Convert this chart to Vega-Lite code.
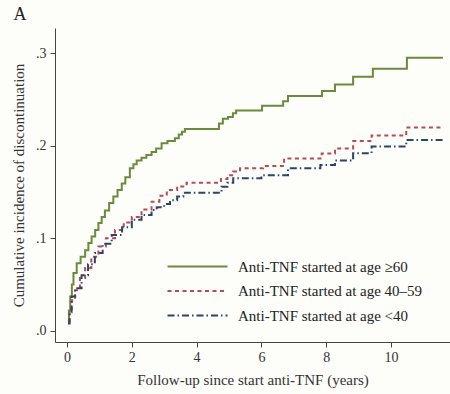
{
  "$schema": "https://vega.github.io/schema/vega-lite/v6.json",
  "autosize": "none",
  "padding": {"left": 55, "top": 28, "right": 0, "bottom": 52},
  "width": 395,
  "height": 314,
  "background": "#fdfdf9",
  "title": {"text": "A", "anchor": "start", "frame": "bounds", "dx": 2, "offset": 4, "fontSize": 18, "font": "Liberation Serif", "fontWeight": "normal", "color": "#222"},
  "config": {
    "view": {"stroke": null},
    "font": "Liberation Serif",
    "axis": {"labelFont": "Liberation Serif", "titleFont": "Liberation Serif", "labelFontSize": 14, "titleFontSize": 15, "titleFontWeight": "normal", "labelColor": "#333", "titleColor": "#333", "domainColor": "#444", "tickColor": "#444", "grid": false, "tickSize": 5}
  },
  "data": {"values": [
    {"g": "Anti-TNF started at age ≥60", "t": 0.03, "p": 0.010},
    {"g": "Anti-TNF started at age ≥60", "t": 0.06, "p": 0.022},
    {"g": "Anti-TNF started at age ≥60", "t": 0.10, "p": 0.037},
    {"g": "Anti-TNF started at age ≥60", "t": 0.15, "p": 0.050},
    {"g": "Anti-TNF started at age ≥60", "t": 0.20, "p": 0.0625},
    {"g": "Anti-TNF started at age ≥60", "t": 0.30, "p": 0.073},
    {"g": "Anti-TNF started at age ≥60", "t": 0.42, "p": 0.080},
    {"g": "Anti-TNF started at age ≥60", "t": 0.56, "p": 0.087},
    {"g": "Anti-TNF started at age ≥60", "t": 0.66, "p": 0.095},
    {"g": "Anti-TNF started at age ≥60", "t": 0.76, "p": 0.102},
    {"g": "Anti-TNF started at age ≥60", "t": 0.87, "p": 0.109},
    {"g": "Anti-TNF started at age ≥60", "t": 0.97, "p": 0.1165},
    {"g": "Anti-TNF started at age ≥60", "t": 1.07, "p": 0.123},
    {"g": "Anti-TNF started at age ≥60", "t": 1.17, "p": 0.130},
    {"g": "Anti-TNF started at age ≥60", "t": 1.30, "p": 0.138},
    {"g": "Anti-TNF started at age ≥60", "t": 1.43, "p": 0.145},
    {"g": "Anti-TNF started at age ≥60", "t": 1.56, "p": 0.152},
    {"g": "Anti-TNF started at age ≥60", "t": 1.69, "p": 0.159},
    {"g": "Anti-TNF started at age ≥60", "t": 1.80, "p": 0.166},
    {"g": "Anti-TNF started at age ≥60", "t": 1.94, "p": 0.1755},
    {"g": "Anti-TNF started at age ≥60", "t": 2.05, "p": 0.180},
    {"g": "Anti-TNF started at age ≥60", "t": 2.15, "p": 0.184},
    {"g": "Anti-TNF started at age ≥60", "t": 2.30, "p": 0.187},
    {"g": "Anti-TNF started at age ≥60", "t": 2.45, "p": 0.190},
    {"g": "Anti-TNF started at age ≥60", "t": 2.61, "p": 0.193},
    {"g": "Anti-TNF started at age ≥60", "t": 2.75, "p": 0.197},
    {"g": "Anti-TNF started at age ≥60", "t": 2.92, "p": 0.2025},
    {"g": "Anti-TNF started at age ≥60", "t": 3.10, "p": 0.205},
    {"g": "Anti-TNF started at age ≥60", "t": 3.33, "p": 0.208},
    {"g": "Anti-TNF started at age ≥60", "t": 3.45, "p": 0.212},
    {"g": "Anti-TNF started at age ≥60", "t": 3.55, "p": 0.215},
    {"g": "Anti-TNF started at age ≥60", "t": 3.64, "p": 0.218},
    {"g": "Anti-TNF started at age ≥60", "t": 4.69, "p": 0.224},
    {"g": "Anti-TNF started at age ≥60", "t": 4.81, "p": 0.229},
    {"g": "Anti-TNF started at age ≥60", "t": 4.97, "p": 0.231},
    {"g": "Anti-TNF started at age ≥60", "t": 5.12, "p": 0.235},
    {"g": "Anti-TNF started at age ≥60", "t": 5.22, "p": 0.238},
    {"g": "Anti-TNF started at age ≥60", "t": 6.02, "p": 0.243},
    {"g": "Anti-TNF started at age ≥60", "t": 6.67, "p": 0.248},
    {"g": "Anti-TNF started at age ≥60", "t": 6.82, "p": 0.2535},
    {"g": "Anti-TNF started at age ≥60", "t": 7.87, "p": 0.259},
    {"g": "Anti-TNF started at age ≥60", "t": 8.27, "p": 0.266},
    {"g": "Anti-TNF started at age ≥60", "t": 8.83, "p": 0.2745},
    {"g": "Anti-TNF started at age ≥60", "t": 9.44, "p": 0.283},
    {"g": "Anti-TNF started at age ≥60", "t": 10.49, "p": 0.295},
    {"g": "Anti-TNF started at age ≥60", "t": 11.6, "p": 0.295},
    {"g": "Anti-TNF started at age 40–59", "t": 0.03, "p": 0.010},
    {"g": "Anti-TNF started at age 40–59", "t": 0.08, "p": 0.020},
    {"g": "Anti-TNF started at age 40–59", "t": 0.15, "p": 0.033},
    {"g": "Anti-TNF started at age 40–59", "t": 0.25, "p": 0.044},
    {"g": "Anti-TNF started at age 40–59", "t": 0.40, "p": 0.057},
    {"g": "Anti-TNF started at age 40–59", "t": 0.56, "p": 0.068},
    {"g": "Anti-TNF started at age 40–59", "t": 0.75, "p": 0.080},
    {"g": "Anti-TNF started at age 40–59", "t": 0.97, "p": 0.091},
    {"g": "Anti-TNF started at age 40–59", "t": 1.20, "p": 0.100},
    {"g": "Anti-TNF started at age 40–59", "t": 1.48, "p": 0.109},
    {"g": "Anti-TNF started at age 40–59", "t": 1.75, "p": 0.117},
    {"g": "Anti-TNF started at age 40–59", "t": 2.00, "p": 0.123},
    {"g": "Anti-TNF started at age 40–59", "t": 2.30, "p": 0.131},
    {"g": "Anti-TNF started at age 40–59", "t": 2.61, "p": 0.1395},
    {"g": "Anti-TNF started at age 40–59", "t": 2.85, "p": 0.146},
    {"g": "Anti-TNF started at age 40–59", "t": 3.08, "p": 0.152},
    {"g": "Anti-TNF started at age 40–59", "t": 3.40, "p": 0.156},
    {"g": "Anti-TNF started at age 40–59", "t": 3.69, "p": 0.160},
    {"g": "Anti-TNF started at age 40–59", "t": 4.75, "p": 0.164},
    {"g": "Anti-TNF started at age 40–59", "t": 4.95, "p": 0.168},
    {"g": "Anti-TNF started at age 40–59", "t": 5.13, "p": 0.172},
    {"g": "Anti-TNF started at age 40–59", "t": 5.34, "p": 0.1755},
    {"g": "Anti-TNF started at age 40–59", "t": 6.05, "p": 0.178},
    {"g": "Anti-TNF started at age 40–59", "t": 6.70, "p": 0.186},
    {"g": "Anti-TNF started at age 40–59", "t": 7.86, "p": 0.1915},
    {"g": "Anti-TNF started at age 40–59", "t": 8.27, "p": 0.197},
    {"g": "Anti-TNF started at age 40–59", "t": 8.83, "p": 0.205},
    {"g": "Anti-TNF started at age 40–59", "t": 9.40, "p": 0.211},
    {"g": "Anti-TNF started at age 40–59", "t": 10.47, "p": 0.2195},
    {"g": "Anti-TNF started at age 40–59", "t": 11.6, "p": 0.2195},
    {"g": "Anti-TNF started at age <40", "t": 0.03, "p": 0.008},
    {"g": "Anti-TNF started at age <40", "t": 0.08, "p": 0.020},
    {"g": "Anti-TNF started at age <40", "t": 0.14, "p": 0.037},
    {"g": "Anti-TNF started at age <40", "t": 0.25, "p": 0.046},
    {"g": "Anti-TNF started at age <40", "t": 0.45, "p": 0.060},
    {"g": "Anti-TNF started at age <40", "t": 0.65, "p": 0.072},
    {"g": "Anti-TNF started at age <40", "t": 0.86, "p": 0.084},
    {"g": "Anti-TNF started at age <40", "t": 1.10, "p": 0.094},
    {"g": "Anti-TNF started at age <40", "t": 1.38, "p": 0.1035},
    {"g": "Anti-TNF started at age <40", "t": 1.70, "p": 0.112},
    {"g": "Anti-TNF started at age <40", "t": 2.00, "p": 0.120},
    {"g": "Anti-TNF started at age <40", "t": 2.30, "p": 0.125},
    {"g": "Anti-TNF started at age <40", "t": 2.61, "p": 0.1305},
    {"g": "Anti-TNF started at age <40", "t": 2.77, "p": 0.1335},
    {"g": "Anti-TNF started at age <40", "t": 3.00, "p": 0.137},
    {"g": "Anti-TNF started at age <40", "t": 3.18, "p": 0.141},
    {"g": "Anti-TNF started at age <40", "t": 3.40, "p": 0.145},
    {"g": "Anti-TNF started at age <40", "t": 3.59, "p": 0.149},
    {"g": "Anti-TNF started at age <40", "t": 4.77, "p": 0.1556},
    {"g": "Anti-TNF started at age <40", "t": 4.95, "p": 0.160},
    {"g": "Anti-TNF started at age <40", "t": 5.13, "p": 0.1647},
    {"g": "Anti-TNF started at age <40", "t": 6.00, "p": 0.168},
    {"g": "Anti-TNF started at age <40", "t": 6.82, "p": 0.1755},
    {"g": "Anti-TNF started at age <40", "t": 7.82, "p": 0.179},
    {"g": "Anti-TNF started at age <40", "t": 8.27, "p": 0.184},
    {"g": "Anti-TNF started at age <40", "t": 8.83, "p": 0.1917},
    {"g": "Anti-TNF started at age <40", "t": 9.40, "p": 0.199},
    {"g": "Anti-TNF started at age <40", "t": 10.47, "p": 0.206},
    {"g": "Anti-TNF started at age <40", "t": 11.6, "p": 0.206}
  ]},
  "mark": {"type": "line", "interpolate": "step-after", "strokeWidth": 2},
  "encoding": {
    "x": {"field": "t", "type": "quantitative", "scale": {"domain": [-0.37, 11.82], "nice": false, "zero": false},
      "axis": {"values": [0, 2, 4, 6, 8, 10], "title": "Follow-up since start anti-TNF (years)", "labelPadding": 3, "titlePadding": 8}},
    "y": {"field": "p", "type": "quantitative", "scale": {"domain": [-0.012, 0.327], "nice": false, "zero": false},
      "axis": {"values": [0, 0.1, 0.2, 0.3], "labelExpr": "substring(format(datum.value, '.1f'), 1)", "title": "Cumulative incidence of discontinuation", "labelPadding": 4, "titlePadding": 9}},
    "color": {"field": "g", "type": "nominal",
      "scale": {"domain": ["Anti-TNF started at age ≥60", "Anti-TNF started at age 40–59", "Anti-TNF started at age <40"], "range": ["#6a8a3c", "#b84a58", "#2c4468"]},
      "legend": {"title": null, "orient": "none", "legendX": 135, "legendY": 231, "symbolType": "M-6,0H6", "symbolSize": 100, "symbolStrokeWidth": 2, "labelFont": "Liberation Serif", "labelFontSize": 15, "labelColor": "#222", "labelOffset": 33, "labelLimit": 400, "rowPadding": 8.5, "padding": 0}},
    "strokeDash": {"field": "g", "type": "nominal",
      "scale": {"domain": ["Anti-TNF started at age ≥60", "Anti-TNF started at age 40–59", "Anti-TNF started at age <40"], "range": [[1, 0], [4, 3.5], [7, 3, 1.5, 3]]},
      "legend": null}
  }
}
